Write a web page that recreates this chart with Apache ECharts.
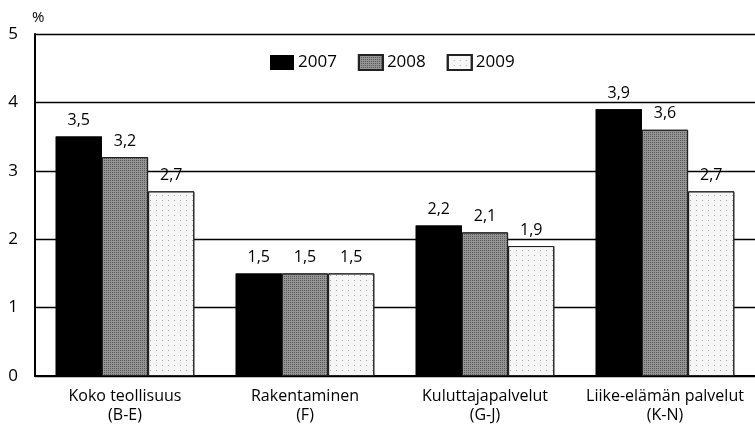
<!DOCTYPE html>
<html>
<head>
<meta charset="utf-8">
<script src="https://cdn.jsdelivr.net/npm/echarts@6/dist/echarts.min.js"></script>
<style>
  html, body { margin: 0; padding: 0; background: #fff; }
  #chart { width: 755px; height: 429px; }
</style>
</head>
<body>
<div id="chart"></div>
<script>
// toimialat
const categories = ['Koko teollisuus\n(B-E)', 'Rakentaminen\n(F)', 'Kuluttajapalvelut\n(G-J)', 'Liike-elämän palvelut\n(K-N)']
const years = ['2007', '2008', '2009']
const values2007 = [3.5, 1.5, 2.2, 3.9]
const values2008 = [3.2, 1.5, 2.1, 3.6]
const values2009 = [2.7, 1.5, 1.9, 2.7]
const yTicks = [0, 1, 2, 3, 4, 5]

const font = '"Open Sans", "Noto Sans", sans-serif'

// rasterit: musta, tumma pilkku, vaalea pilkku
const styles = [
    { color: '#000', borderColor: '#000', decal: { symbol: 'rect', color: '#000', symbolSize: 1, dashArrayX: [1, 0], dashArrayY: [1, 0] } },
    { color: '#949494', borderColor: '#222', decal: { symbol: 'rect', color: 'rgba(30,30,30,0.5)', symbolSize: 1, dashArrayX: [1, 1], dashArrayY: [1, 1], rotation: 0 } },
    { color: '#f6f6f6', borderColor: '#222', decal: { symbol: 'rect', color: 'rgba(90,90,90,0.5)', symbolSize: 1, dashArrayX: [1, 5], dashArrayY: [1, 4], rotation: 0 } }
]

const chart = echarts.init(document.getElementById('chart'))

const option = {
    animation: false,
    aria: { enabled: true, decal: { show: true } },
    grid: { left: 35, right: 0, top: 34, bottom: 53 },
    legend: {
        top: 49,
        left: 265,
        icon: 'rect',
        itemWidth: 24,
        itemHeight: 15,
        itemGap: 21,
        textStyle: { fontFamily: font, fontSize: 17, color: '#000', padding: [0, 0, 0, -1] },
        data: years
    },
    xAxis: {
        type: 'category',
        data: categories,
        axisLine: { lineStyle: { color: '#000', width: 2 } },
        axisTick: { show: false },
        axisLabel: { interval: 0, fontFamily: font, fontSize: 16, color: '#000', lineHeight: 19, margin: 11 }
    },
    yAxis: {
        type: 'value',
        min: yTicks[0],
        max: yTicks[yTicks.length - 1],
        interval: 1,
        name: '%',
        nameLocation: 'end',
        nameGap: 9,
        nameTextStyle: { fontFamily: font, fontSize: 15, color: '#000', align: 'left', padding: [0, 0, 0, -3] },
        axisLine: { show: true, lineStyle: { color: '#000', width: 2 } },
        axisTick: { show: false },
        axisLabel: { fontFamily: font, fontSize: 17, color: '#000', margin: 17 },
        splitLine: { lineStyle: { color: '#000', width: 1.3 } }
    },
    series: [values2007, values2008, values2009].map((vals, i) => ({
        name: years[i],
        type: 'bar',
        data: vals,
        barGap: '0%',
        barCategoryGap: '23%',
        itemStyle: { color: styles[i].color, borderColor: styles[i].borderColor, borderWidth: i === 0 ? 0 : 1, decal: styles[i].decal },
        label: {
            show: true,
            position: 'top',
            distance: 8,
            fontFamily: font,
            fontSize: 16,
            color: '#000',
            formatter: p => String(p.value).replace('.', ',')
        }
    }))
}

option && chart.setOption(option)
</script>
</body>
</html>
